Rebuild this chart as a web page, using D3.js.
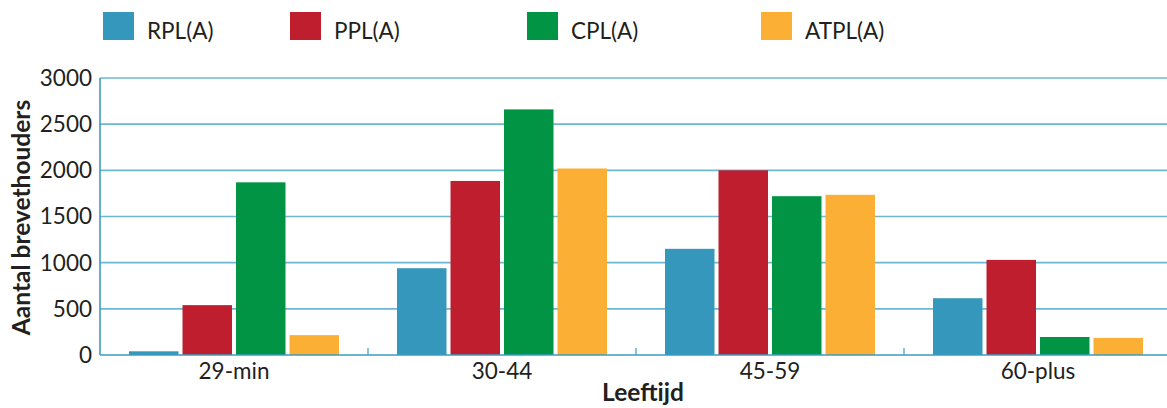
<!DOCTYPE html>
<html>
<head>
<meta charset="utf-8">
<script src="https://cdn.jsdelivr.net/npm/d3@7"></script>
<style>
  html, body { margin: 0; padding: 0; background: #fff; overflow: hidden; }
  svg { display: block; font-family: Lato, "Open Sans", sans-serif; }
</style>
</head>
<body>
<svg id="chart" width="1167" height="408"></svg>
<script>
// Age groups on the x axis
const categories = ["29-min", "30-44", "45-59", "60-plus"];
// Licence types (one bar per type in each age group)
const series = ["RPL(A)", "PPL(A)", "CPL(A)", "ATPL(A)"];
const colors = ["#3597bb", "#be1e2e", "#009444", "#fbb035"];
// Number of licence holders per age group, one array per licence type
const rplValues  = [40, 940, 1150, 615];
const pplValues  = [540, 1885, 2000, 1030];
const cplValues  = [1870, 2660, 1720, 195];
const atplValues = [215, 2020, 1735, 185];
const yTicks = [0, 500, 1000, 1500, 2000, 2500, 3000];
// Legend positions of each swatch
const legendX = [103, 290, 527, 761];

const valuesBySeries = [rplValues, pplValues, cplValues, atplValues];

const svg = d3.select("#chart");
const plotLeft = 100, plotRight = 1172, plotTop = 78, plotBottom = 355;

const x = d3.scaleBand().domain(categories).range([plotLeft, plotRight]).paddingInner(0).paddingOuter(0);
const xInner = d3.scaleBand().domain(series).range([0, x.bandwidth()])
  .paddingInner(0.075).paddingOuter(0.542);
const y = d3.scaleLinear().domain([0, 3000]).range([plotBottom, plotTop]);

// Horizontal gridlines
svg.append("g")
  .selectAll("line")
  .data(yTicks.filter(d => d > 0))
  .join("line")
  .attr("x1", plotLeft).attr("x2", plotRight)
  .attr("y1", d => y(d)).attr("y2", d => y(d))
  .attr("stroke", "#6db7d3").attr("stroke-width", 1.6);

// Y axis labels
svg.append("g")
  .selectAll("text")
  .data(yTicks)
  .join("text")
  .attr("x", 92).attr("y", d => y(d))
  .attr("dy", "0.35em")
  .attr("text-anchor", "end")
  .attr("font-size", 22.5)
  .attr("fill", "#231f20")
  .text(d => d);

// Bars
const rows = categories.map((c, i) => ({ cat: c, vals: series.map((s, j) => ({ s, j, v: valuesBySeries[j][i] })) }));
svg.append("g")
  .selectAll("g")
  .data(rows)
  .join("g")
  .attr("transform", d => `translate(${x(d.cat)},0)`)
  .selectAll("rect")
  .data(d => d.vals)
  .join("rect")
  .attr("x", d => xInner(d.s))
  .attr("width", xInner.bandwidth())
  .attr("y", d => y(d.v))
  .attr("height", d => y(0) - y(d.v))
  .attr("fill", d => colors[d.j]);

// Axis lines
svg.append("line")
  .attr("x1", plotLeft).attr("x2", plotLeft).attr("y1", plotTop).attr("y2", plotBottom)
  .attr("stroke", "#3a9cc2").attr("stroke-width", 1.6);
svg.append("line")
  .attr("x1", plotLeft).attr("x2", plotRight).attr("y1", plotBottom).attr("y2", plotBottom)
  .attr("stroke", "#3a9cc2").attr("stroke-width", 1.6);

// Category separator ticks (pointing up)
svg.append("g")
  .selectAll("line")
  .data(categories.slice(1))
  .join("line")
  .attr("x1", d => x(d)).attr("x2", d => x(d))
  .attr("y1", plotBottom).attr("y2", plotBottom - 7)
  .attr("stroke", "#3a9cc2").attr("stroke-width", 1.2);

// Category labels
svg.append("g")
  .selectAll("text")
  .data(categories)
  .join("text")
  .attr("x", d => x(d) + x.bandwidth() / 2)
  .attr("y", 379)
  .attr("text-anchor", "middle")
  .attr("font-size", 22.5)
  .attr("fill", "#231f20")
  .text(d => d);

// Axis titles
svg.append("text")
  .attr("x", 643).attr("y", 401)
  .attr("text-anchor", "middle")
  .attr("font-size", 24.5).attr("font-weight", "bold")
  .attr("fill", "#231f20")
  .text("Leeftijd");
svg.append("text")
  .attr("transform", `translate(30,${(plotTop + plotBottom) / 2 + 1}) rotate(-90)`)
  .attr("text-anchor", "middle")
  .attr("font-size", 24.5).attr("font-weight", "bold")
  .attr("fill", "#231f20")
  .text("Aantal brevethouders");

// Legend
const legend = svg.append("g")
  .selectAll("g")
  .data(series)
  .join("g")
  .attr("transform", (d, i) => `translate(${legendX[i]},12)`);
legend.append("rect")
  .attr("width", 31).attr("height", 28)
  .attr("fill", (d, i) => colors[i]);
legend.append("text")
  .attr("x", 44).attr("y", 27)
  .attr("font-size", 22.5)
  .attr("fill", "#231f20")
  .text(d => d);
</script>
</body>
</html>
